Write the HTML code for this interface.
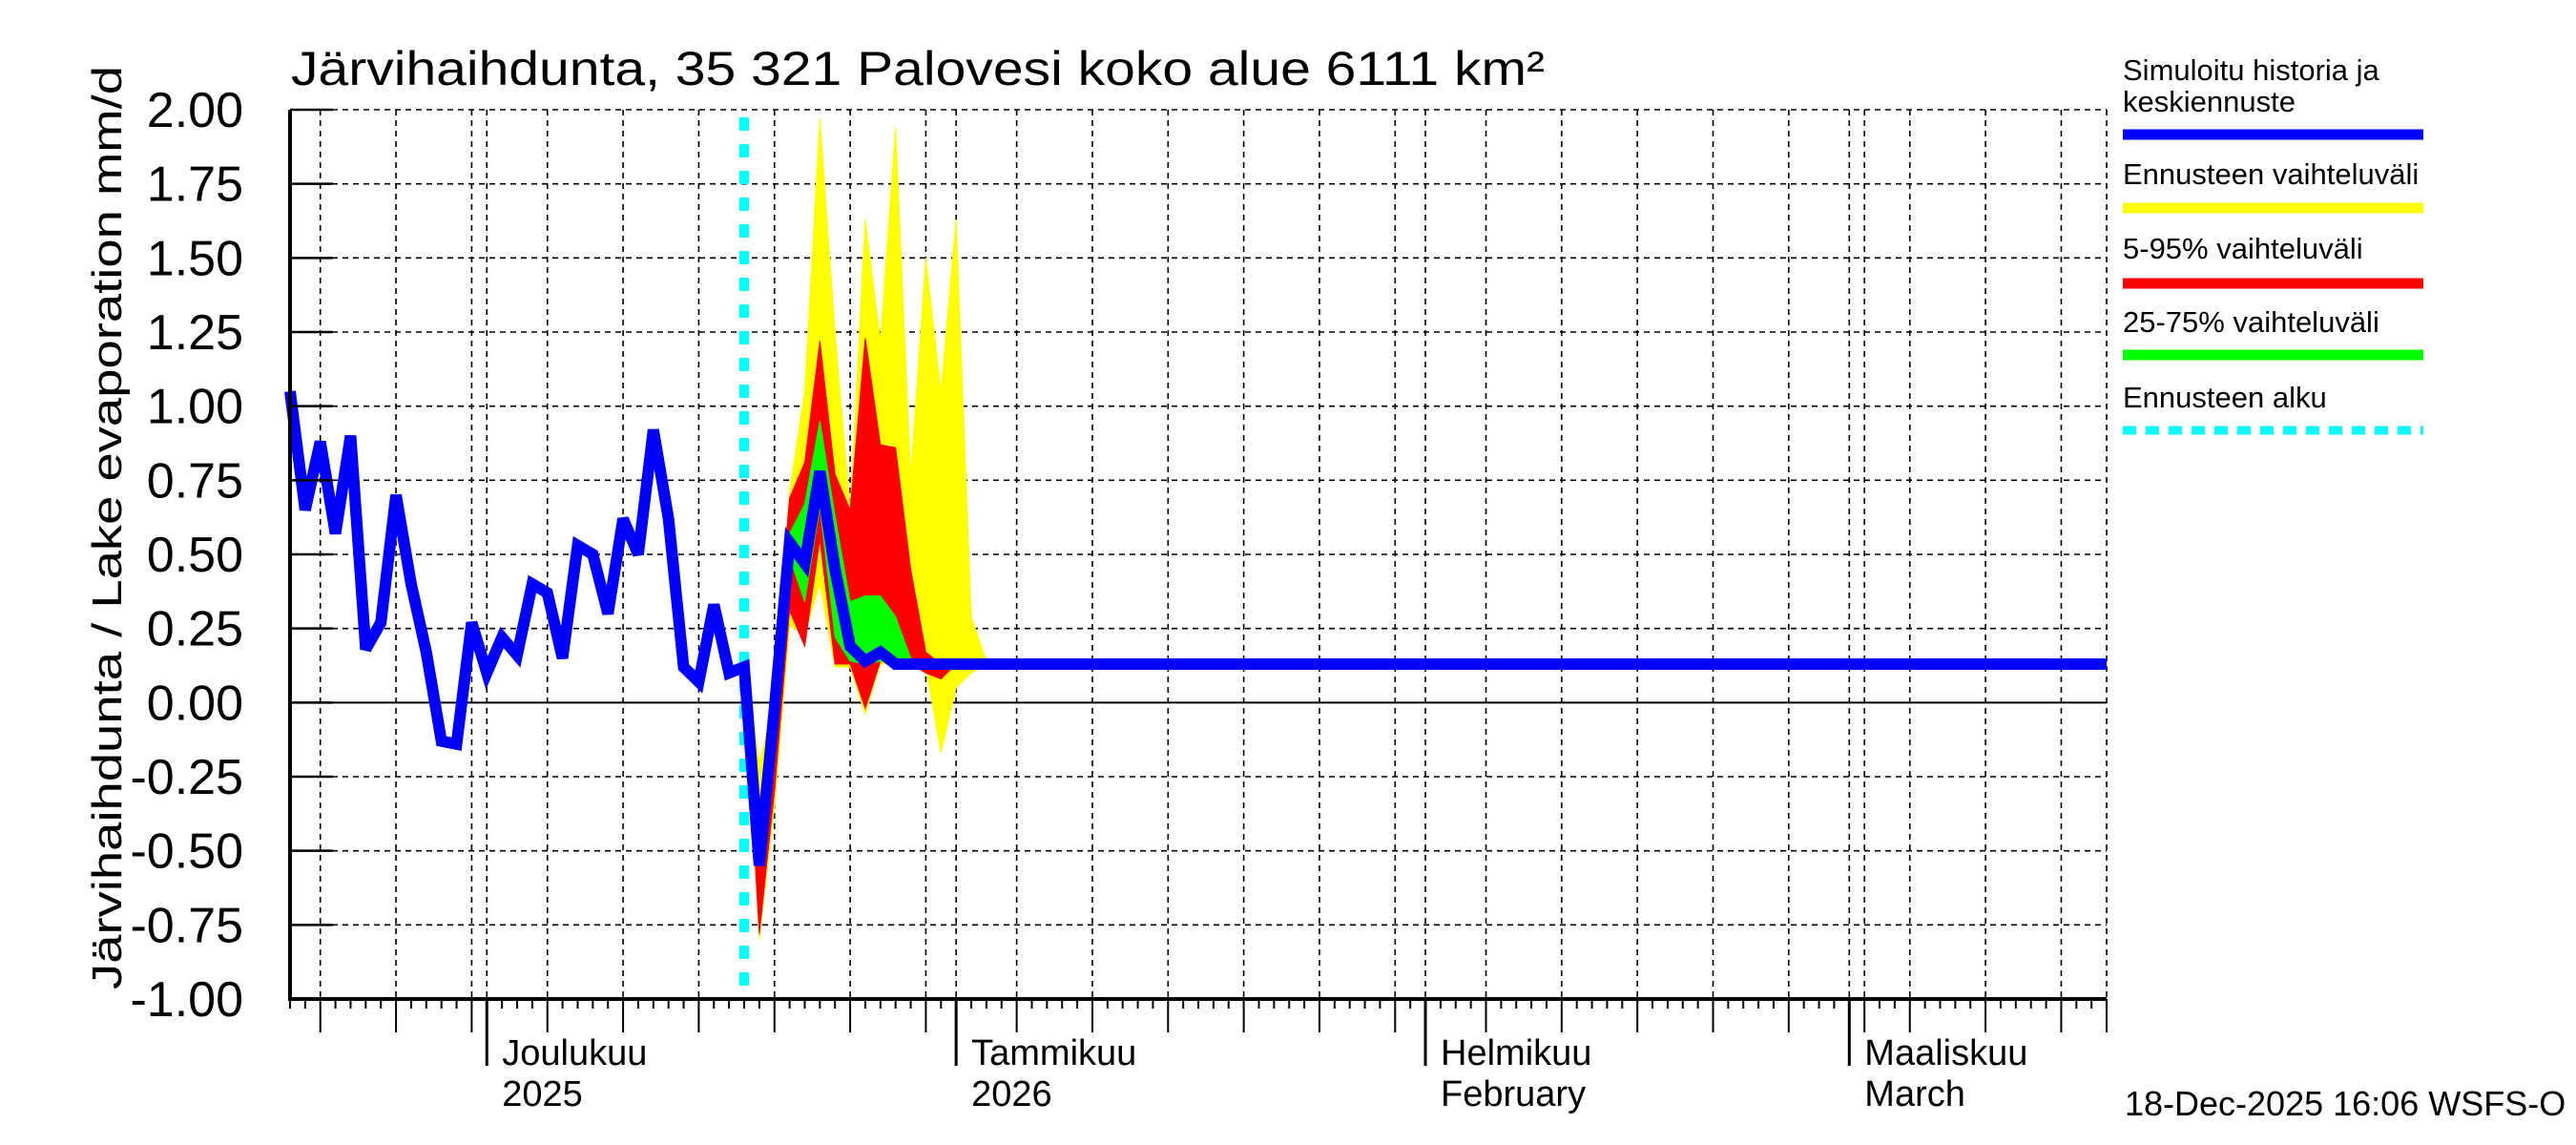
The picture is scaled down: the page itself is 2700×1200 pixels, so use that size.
<!DOCTYPE html>
<html><head><meta charset="utf-8"><style>body{margin:0;background:#fff}svg{display:block}text{font-family:"Liberation Sans",sans-serif;fill:#000}</style></head>
<body>
<svg id="chart" width="2700" height="1200" viewBox="0 0 2700 1200" xmlns="http://www.w3.org/2000/svg">
<rect width="2700" height="1200" fill="#fff"/>
<g id="grid"></g>
<g id="bands"></g>
<g id="lines"></g>
<g id="axes"></g>
<text x="305" y="89" font-size="50" textLength="1314" lengthAdjust="spacingAndGlyphs">Järvihaihdunta, 35 321 Palovesi koko alue 6111 km²</text>
<text transform="translate(127,553) rotate(-90)" text-anchor="middle" font-size="44" textLength="968" lengthAdjust="spacingAndGlyphs">Järvihaihdunta / Lake evaporation   mm/d</text>
<g font-size="31">
<text x="2225" y="84">Simuloitu historia ja</text>
<text x="2225" y="117">keskiennuste</text>
<line x1="2225" y1="141" x2="2540" y2="141" stroke="#0000ff" stroke-width="11"/>
<text x="2225" y="193">Ennusteen vaihteluväli</text>
<line x1="2225" y1="218" x2="2540" y2="218" stroke="#ffff00" stroke-width="11"/>
<text x="2225" y="271">5-95% vaihteluväli</text>
<line x1="2225" y1="297" x2="2540" y2="297" stroke="#ff0000" stroke-width="11"/>
<text x="2225" y="348">25-75% vaihteluväli</text>
<line x1="2225" y1="372" x2="2540" y2="372" stroke="#00ff00" stroke-width="11"/>
<text x="2225" y="427">Ennusteen alku</text>
<line x1="2225" y1="451" x2="2540" y2="451" stroke="#00ffff" stroke-width="9" stroke-dasharray="14 10"/>
</g>
<text x="2227" y="1169" font-size="36">18-Dec-2025 16:06 WSFS-O</text>
</svg>
<script>
// data: days since 18 Nov 2025
const yTicks = [2, 1.75, 1.5, 1.25, 1, 0.75, 0.5, 0.25, 0, -0.25, -0.5, -0.75, -1];
const yTickLabels = ["2.00","1.75","1.50","1.25","1.00","0.75","0.50","0.25","0.00","-0.25","-0.50","-0.75","-1.00"];
const monthDays = [13, 44, 75, 103];
const monthLabels1 = ["Joulukuu","Tammikuu","Helmikuu","Maaliskuu"];
const monthLabels2 = ["2025","2026","February","March"];
const forecastStartDay = 30;
const histDays = [0,1,2,3,4,5,6,7,8,9,10,11,12,13,14,15,16,17,18,19,20,21,22,23,24,25,26,27,28,29,30,31,32,33,34,35,36,37,38,39,40,120];
const histVals = [1.05,0.65,0.88,0.57,0.9,0.18,0.27,0.7,0.4,0.17,-0.13,-0.14,0.27,0.1,0.22,0.16,0.4,0.37,0.15,0.53,0.5,0.3,0.62,0.5,0.92,0.62,0.12,0.07,0.33,0.1,0.12,-0.55,-0.02,0.54,0.47,0.78,0.45,0.19,0.14,0.17,0.13,0.13];
const bandDays = [30,31,32,33,34,35,36,37,38,39,40,41,42,43,44,45,46,47];
const yellowHi = [0.14,-0.2,0.0,0.71,1.05,1.97,1.25,0.65,1.63,1.22,1.94,0.77,1.5,1.05,1.63,0.29,0.14,0.13];
const yellowLo = [0.1,-0.8,-0.35,0.26,0.23,0.4,0.12,0.12,-0.04,0.13,0.13,0.13,0.12,-0.17,0.05,0.1,0.13,0.13];
const redHi = [0.13,-0.35,0.1,0.69,0.81,1.22,0.77,0.65,1.23,0.87,0.86,0.45,0.17,0.13,0.13,0.13,0.13,0.13];
const redLo = [0.1,-0.78,-0.3,0.31,0.19,0.55,0.13,0.13,-0.02,0.14,0.13,0.13,0.1,0.08,0.13,0.13,0.13,0.13];
const greenHi = [0.12,-0.5,0.0,0.57,0.67,0.95,0.63,0.34,0.36,0.36,0.29,0.15,0.13,0.13,0.13,0.13,0.13,0.13];
const greenLo = [0.12,-0.55,-0.05,0.49,0.34,0.66,0.22,0.14,0.13,0.14,0.13,0.13,0.13,0.13,0.13,0.13,0.13,0.13];

const X0=304, DAYW=15.867, Y0=115, Y1=1047, NS="http://www.w3.org/2000/svg";
const xs = d => X0 + d*DAYW;
const ys = v => Y0 + (2 - v)*(Y1-Y0)/3;
function mk(tag, attrs, parent){const e=document.createElementNS(NS,tag);for(const k in attrs)e.setAttribute(k,attrs[k]);parent.appendChild(e);return e;}
const grid=document.getElementById('grid'), axes=document.getElementById('axes'), bands=document.getElementById('bands'), lines=document.getElementById('lines');
const XR = xs(120);
// horizontal grid + y labels
yTicks.forEach((v,i)=>{
  const y=ys(v);
  const g=mk('line',{x1:X0,y1:y,x2:XR,y2:y,stroke:'#000','stroke-width':v===0?2:1.6,'stroke-dasharray':v===0?'none':'6 5'},grid);
  
  
  const t=mk('line',{x1:X0,y1:y,x2:X0+45,y2:y,stroke:'#000','stroke-width':2.5},axes);
  
  
  const l=mk('text',{x:255,y:y+18,'text-anchor':'end','font-size':52},axes);
  l.textContent=yTickLabels[i];
  
  
});
// vertical grid: day 5,10,...,30 of each month + month starts
const monthStartDays=[-17,13,44,75,103];
const gridDays=[];
monthStartDays.forEach(ms=>{[0,4,9,14,19,24,29].forEach(o=>{const d=ms+o;if(d>=0&&d<=120)gridDays.push(d);});});
gridDays.push(120);
gridDays.forEach(d=>{
  const x=xs(d);
  const g=mk('line',{x1:x,y1:Y0,x2:x,y2:Y1,stroke:'#000','stroke-width':1.6,'stroke-dasharray':'6 5'},grid);
  
  
});
// day ticks
for(let d=0; d<=120; d++){
  const x=xs(d);
  const isMonth=monthDays.includes(d), isGrid=gridDays.includes(d);
  const len=isMonth?70:(isGrid?35:10);
  const t=mk('line',{x1:x,y1:Y1,x2:x,y2:Y1+len,stroke:'#000','stroke-width':isMonth?3:2},axes);
  
  
}
monthDays.forEach((d,i)=>{
  const x=xs(d)+16;
  const a=mk('text',{x:x,y:1116,'font-size':38},axes); a.textContent=monthLabels1[i];
  
  
  const b=mk('text',{x:x,y:1159,'font-size':38},axes); b.textContent=monthLabels2[i];
  
  
});
// axis lines
const ax=mk('path',{d:`M${X0},${Y0} V${Y1} H${XR}`,fill:'none',stroke:'#000','stroke-width':4},axes);


// bands
function band(hi,lo,color,name){
  let d='M'+bandDays.map((dd,i)=>xs(dd)+','+ys(hi[i])).join(' L');
  d+=' L'+bandDays.slice().reverse().map((dd,j)=>{const i=bandDays.length-1-j;return xs(dd)+','+ys(lo[i]);}).join(' L')+'Z';
  const p=mk('path',{d:d,fill:color,stroke:color,'stroke-width':1},bands);
  
  
}
band(yellowHi,yellowLo,'#ffff00','band-min-max');
band(redHi,redLo,'#ff0000','band-5-95');
band(greenHi,greenLo,'#00ff00','band-25-75');
// forecast start
const fs=mk('line',{x1:xs(forecastStartDay),y1:Y0+8,x2:xs(forecastStartDay),y2:Y1,stroke:'#00ffff','stroke-width':10,'stroke-dasharray':'14 14'},lines);


// history/median line
const hl=mk('polyline',{points:histDays.map((d,i)=>xs(d)+','+ys(histVals[i])).join(' '),fill:'none',stroke:'#0000ff','stroke-width':12,'stroke-linejoin':'miter','stroke-miterlimit':3},lines);


</script>
</body></html>
